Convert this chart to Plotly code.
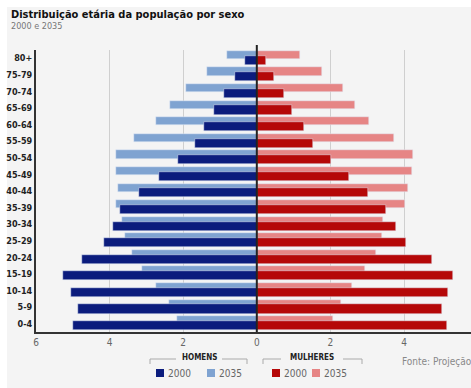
import plotly.graph_objects as go

ages = ["0-4", "5-9", "10-14", "15-19", "20-24", "25-29", "30-34", "35-39",
        "40-44", "45-49", "50-54", "55-59", "60-64", "65-69", "70-74", "75-79", "80+"]
men_2000 = [4.99, 4.85, 5.05, 5.26, 4.76, 4.15, 3.92, 3.72, 3.20, 2.66, 2.14, 1.69, 1.44, 1.15, 0.89, 0.58, 0.33]
men_2035 = [2.18, 2.38, 2.75, 3.11, 3.40, 3.58, 3.65, 3.83, 3.77, 3.83, 3.83, 3.33, 2.75, 2.37, 1.93, 1.35, 0.80]
women_2000 = [5.18, 5.02, 5.20, 5.34, 4.77, 4.05, 3.78, 3.51, 3.02, 2.51, 2.02, 1.53, 1.29, 0.96, 0.73, 0.46, 0.24]
women_2035 = [2.06, 2.29, 2.58, 2.93, 3.24, 3.41, 3.44, 4.03, 4.12, 4.21, 4.25, 3.73, 3.04, 2.67, 2.34, 1.77, 1.18]
tick_vals = [-6, -4, -2, 0, 2, 4]
tick_text = ["6", "4", "2", "0", "2", "4"]

C_M00 = "#0b1c7d"
C_M35 = "#7fa3d1"
C_W00 = "#b50808"
C_W35 = "#e68585"
BG = "#f4f4f4"
NARROW = "DejaVu Sans Condensed, Liberation Sans Narrow, Arial Narrow, sans-serif"

W, H = 471, 388
L, R, T, B = 36, 0, 50, 56
PW, PH = W - L - R, H - T - B


def px(x):
    return (x - L) / PW


def py(y):
    return (H - B - y) / PH


fig = go.Figure()
LIGHT_OFF, LIGHT_W = -0.05, 0.5
DARK_OFF, DARK_W = -0.39, 0.55

fig.add_trace(go.Bar(y=ages, x=[-v for v in men_2035], orientation="h", marker_color=C_M35,
                     offset=LIGHT_OFF, width=LIGHT_W, name="Homens 2035"))
fig.add_trace(go.Bar(y=ages, x=women_2035, orientation="h", marker_color=C_W35,
                     offset=LIGHT_OFF, width=LIGHT_W, name="Mulheres 2035"))
fig.add_trace(go.Bar(y=ages, x=[-v for v in men_2000], orientation="h", marker_color=C_M00,
                     offset=DARK_OFF, width=DARK_W, name="Homens 2000"))
fig.add_trace(go.Bar(y=ages, x=women_2000, orientation="h", marker_color=C_W00,
                     offset=DARK_OFF, width=DARK_W, name="Mulheres 2000"))

shapes = [
    dict(type="rect", xref="paper", yref="paper", x0=px(-5), x1=px(W + 5), y0=py(7), y1=py(-5),
         fillcolor="white", line_width=0, layer="below"),
    dict(type="rect", xref="paper", yref="paper", x0=px(-5), x1=px(7), y0=py(-5), y1=py(H + 5),
         fillcolor="white", line_width=0, layer="below"),
    # zero line
    dict(type="line", xref="x", yref="paper", x0=0, x1=0, y0=0, y1=py(45),
         line=dict(color="#222", width=2), layer="above"),
]


def bracket(x0, x1, xt0, xt1, y=359):
    out = []
    for a, b in [(x0, xt0), (xt1, x1)]:
        out.append(dict(type="line", xref="paper", yref="paper", x0=px(a), x1=px(b), y0=py(y), y1=py(y),
                        line=dict(color="#aaa", width=1)))
    for a in (x0, x1):
        out.append(dict(type="line", xref="paper", yref="paper", x0=px(a), x1=px(a), y0=py(y), y1=py(y + 5),
                        line=dict(color="#aaa", width=1)))
    return out

shapes += bracket(150, 247, 176, 222)
shapes += bracket(263, 362, 281, 343)

for x0, c in [(156, C_M00), (207, C_M35), (272, C_W00), (312, C_W35)]:
    shapes.append(dict(type="rect", xref="paper", yref="paper", x0=px(x0), x1=px(x0 + 8),
                       y0=py(369), y1=py(377), fillcolor=c, line_width=0))

annotations = [
    dict(text="<b>Distribuição etária da população por sexo</b>", x=px(9), y=py(14),
         xanchor="left", yanchor="middle", font=dict(size=11, color="#111", family=NARROW)),
    dict(text="2000 e 2035", x=px(9), y=py(26), xanchor="left", yanchor="middle",
         font=dict(size=9, color="#777", family=NARROW)),
    dict(text="<b>HOMENS</b>", x=px(199), y=py(357), xanchor="center", yanchor="middle",
         font=dict(size=8, color="#222", family=NARROW)),
    dict(text="<b>MULHERES</b>", x=px(312), y=py(357), xanchor="center", yanchor="middle",
         font=dict(size=8, color="#222", family=NARROW)),
    dict(text="Fonte: Projeção IBGE", x=px(400), y=py(361), xanchor="left", yanchor="middle",
         font=dict(size=10, color="#888", family=NARROW)),
]
for x0, t in [(166, "2000"), (217, "2035"), (282, "2000"), (322, "2035")]:
    annotations.append(dict(text=t, x=px(x0), y=py(373), xanchor="left", yanchor="middle",
                            font=dict(size=10, color="#666", family=NARROW)))
for a in annotations:
    a.update(xref="paper", yref="paper", showarrow=False)

fig.update_layout(
    width=W, height=H, margin=dict(l=L, r=R, t=T, b=B),
    paper_bgcolor=BG, plot_bgcolor=BG,
    barmode="overlay", bargap=0, showlegend=False,
    shapes=shapes, annotations=annotations,
    xaxis=dict(range=[-6, 5.82], tickvals=tick_vals, ticktext=tick_text,
               showgrid=True, gridcolor="#cfcfcf", gridwidth=1, zeroline=False,
               showline=True, linecolor="#333", linewidth=2,
               tickfont=dict(size=10, color="#666", family=NARROW), ticks=""),
    yaxis=dict(type="category", range=[-0.5, 16.5], showgrid=False, zeroline=False,
               showline=True, linecolor="#333", linewidth=2, ticks="",
               tickfont=dict(size=9, color="#222", family=NARROW, weight="bold")),
)

fig.write_html("out.html")
